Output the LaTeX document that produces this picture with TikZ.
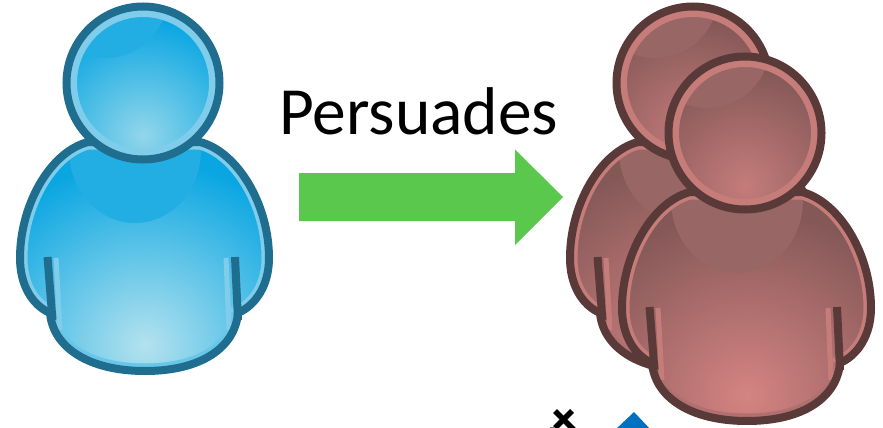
\documentclass[tikz,border=0pt]{standalone}
\usepackage{fontspec}
\setmainfont{Carlito}
\definecolor{blueEdge}{HTML}{1F6E90}
\definecolor{blueRim}{HTML}{7FCDEA}
\definecolor{blueMain}{HTML}{0AA6E2}
\definecolor{blueGlow}{HTML}{B4E2EE}
\definecolor{blueHead}{HTML}{92D6EA}
\definecolor{blueGloss}{HTML}{22AEE3}
\definecolor{redEdge}{HTML}{5A3A38}
\definecolor{redRim}{HTML}{C67C78}
\definecolor{redMain}{HTML}{855858}
\definecolor{redGlow}{HTML}{D48482}
\definecolor{redHead}{HTML}{C47C7A}
\definecolor{redGloss}{HTML}{986664}
\definecolor{arrowGreen}{HTML}{59C84D}
\definecolor{markBlue}{HTML}{0070C0}
\pgfdeclareradialshading{blueBodyGlow}{\pgfpointorigin}{color(0bp)=(blueGlow); color(12.5bp)=(blueMain); color(50bp)=(blueMain)}
\pgfdeclareradialshading{redBodyGlow}{\pgfpointorigin}{color(0bp)=(redGlow); color(12.5bp)=(redMain); color(50bp)=(redMain)}
\pgfdeclareradialshading{blueHeadGlow}{\pgfpointorigin}{color(0bp)=(blueHead); color(12.5bp)=(blueMain); color(50bp)=(blueMain)}
\pgfdeclareradialshading{redHeadGlow}{\pgfpointorigin}{color(0bp)=(redHead); color(12.5bp)=(redMain); color(50bp)=(redMain)}
% one figure, drawn at (0,0) in reference pixels, shifted by #1,#2; #3 is the palette
\newcommand{\person}[3]{
\begin{scope}[shift={(#1,#2)}]
  % body
  \def\bodypath{(88,142) .. controls (50,152) and (20,205) .. (20,258)
    .. controls (20,285) and (32,305) .. (50,313)
    .. controls (53,347) and (88,371) .. (145,371)
    .. controls (202,371) and (235,347) .. (238,313)
    .. controls (256,305) and (269,285) .. (269,258)
    .. controls (269,205) and (238,152) .. (200,142) -- cycle}
  \begin{scope}
    \clip \bodypath;
    \shade[shading=#3BodyGlow] (145,345) ellipse (380 and 370);
    \fill[#3Gloss] (135,150) ellipse (66 and 73);
    \draw[#3Rim, line width=15pt] \bodypath;
    \draw[#3Main!45!#3Glow, line width=15pt] (50,313) .. controls (53,347) and (88,371) .. (145,371)
      .. controls (202,371) and (235,347) .. (238,313);
    \draw[#3Rim, line width=5pt] (56,258) -- (60,330);
    \draw[#3Rim, line width=5pt] (226,258) -- (229,330);
  \end{scope}
  \draw[#3Edge, line width=8pt] \bodypath;
  \draw[#3Edge, line width=8pt] (47.5,257) -- (52.5,320);
  \draw[#3Edge, line width=8pt] (235,257) -- (238,320);
  % head
  \begin{scope}
    \clip (143,83) circle (76.5);
    \shade[shading=#3HeadGlow] (143,135) circle (230);
    \fill[#3Gloss] (105,-5) circle (63);
  \end{scope}
  \draw[#3Rim, line width=7pt] (143,83) circle (69.5);
  \draw[#3Edge, line width=8pt] (143,83) circle (76.5);
\end{scope}
}
\begin{document}
\begin{tikzpicture}[x=1pt, y=-1pt,
  caption/.style={font=\fontsize{67.5}{80}\selectfont, inner sep=0pt, anchor=base west},
  blockarrow/.style={fill=arrowGreen, draw=none}]
\useasboundingbox (0,0) rectangle (883,428);
\person{0}{0}{blue}
\person{550}{0}{red}
\person{602}{50}{red}
\node[caption] (persuades) at (279,134.5) {Persuades};
\fill[blockarrow] (299,173) -- (515,173) -- (515,149.5) -- (563,197) -- (515,245) -- (515,221) -- (299,221) -- cycle;
% cut off pieces along the lower edge
\begin{scope}
  \clip (0,0) rectangle (883,428);
  \draw[black, line width=5.5pt] (555,411) -- (574,430);
  \draw[black, line width=5.5pt] (572,411) -- (555,428);
  \fill[gray] (550,427) rectangle (555,428);
  \fill[markBlue] (634,412) -- (651,430) -- (615,430) -- cycle;
\end{scope}
\end{tikzpicture}
\end{document}
